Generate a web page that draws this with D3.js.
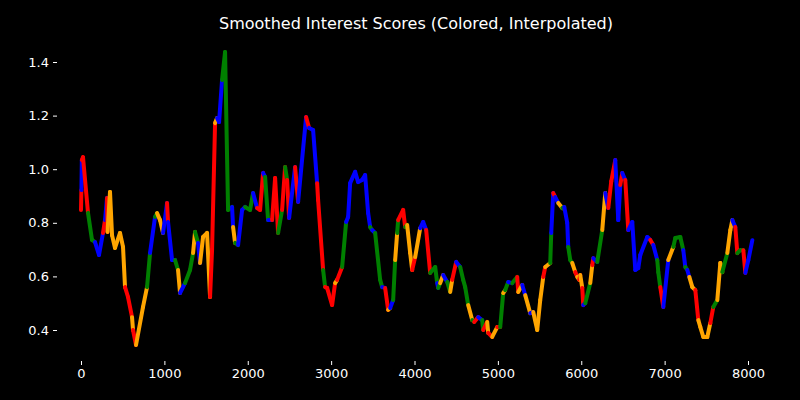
<!DOCTYPE html><html><head><meta charset="utf-8"><script src="https://cdn.jsdelivr.net/npm/d3@7"></script>
<style>body{margin:0;background:#000}</style></head><body><svg id="c" width="800" height="400"></svg><script>
const xs=[0,5,10,24,84,132,168,216,264,288,312,318,348,372,408,468,504,528,564,612,624,660,744,792,828,888,912,948,984,1032,1044,1092,1128,1164,1188,1248,1308,1344,1368,1404,1428,1464,1512,1548,1572,1608,1632,1656,1692,1728,1764,1812,1824,1848,1884,1932,1968,2028,2064,2112,2148,2184,2208,2244,2292,2328,2364,2412,2448,2472,2496,2568,2604,2640,2700,2736,2784,2832,2844,2904,2928,2952,3012,3048,3072,3132,3180,3204,3228,3288,3324,3372,3408,3444,3468,3492,3528,3588,3612,3648,3684,3708,3744,3768,3792,3804,3864,3888,3912,3948,3972,4008,4068,4104,4140,4188,4248,4272,4284,4308,4344,4392,4428,4452,4500,4548,4584,4608,4644,4692,4716,4764,4812,4824,4872,4884,4932,4992,5028,5064,5088,5124,5172,5232,5244,5292,5328,5388,5424,5472,5508,5544,5568,5628,5640,5664,5688,5724,5772,5796,5832,5844,5868,5892,5928,5952,5976,5988,6012,6024,6048,6108,6132,6144,6192,6252,6288,6324,6360,6408,6444,6468,6492,6528,6564,6612,6648,6684,6708,6792,6828,6864,6912,6924,6948,6984,7044,7104,7128,7188,7224,7248,7272,7296,7332,7368,7404,7428,7464,7512,7548,7584,7632,7668,7692,7752,7788,7812,7848,7872,7908,7944,7968,8004,8052];
const ys=[0.848,0.922,1.034,1.045,0.837,0.736,0.728,0.68,0.762,0.81,0.893,0.766,0.915,0.754,0.706,0.762,0.71,0.56,0.523,0.448,0.4,0.344,0.486,0.56,0.687,0.822,0.836,0.81,0.762,0.874,0.803,0.661,0.661,0.624,0.538,0.575,0.624,0.687,0.766,0.725,0.65,0.747,0.762,0.523,0.7,1.172,1.191,1.176,1.333,1.437,0.848,0.859,0.784,0.725,0.717,0.848,0.859,0.848,0.911,0.855,0.848,0.986,0.971,0.81,0.81,0.967,0.762,0.848,1.008,0.96,0.818,1.008,0.878,0.997,1.195,1.154,1.146,0.948,0.885,0.624,0.56,0.557,0.493,0.575,0.587,0.635,0.803,0.822,0.948,0.99,0.952,0.96,0.978,0.836,0.784,0.773,0.762,0.587,0.56,0.557,0.475,0.482,0.512,0.661,0.762,0.81,0.848,0.784,0.792,0.687,0.624,0.672,0.78,0.803,0.773,0.613,0.635,0.575,0.557,0.575,0.605,0.579,0.542,0.587,0.654,0.635,0.587,0.56,0.493,0.437,0.43,0.448,0.437,0.4,0.43,0.389,0.374,0.411,0.411,0.538,0.549,0.579,0.575,0.598,0.542,0.568,0.53,0.463,0.467,0.4,0.512,0.598,0.635,0.65,0.762,0.911,0.896,0.874,0.855,0.859,0.8,0.71,0.661,0.65,0.616,0.598,0.587,0.605,0.557,0.493,0.5,0.575,0.642,0.668,0.654,0.773,0.911,0.855,0.955,1.034,0.81,0.941,0.986,0.96,0.773,0.803,0.624,0.631,0.68,0.747,0.736,0.717,0.661,0.616,0.56,0.486,0.661,0.71,0.743,0.747,0.698,0.635,0.624,0.598,0.56,0.549,0.437,0.411,0.374,0.374,0.426,0.486,0.512,0.65,0.616,0.687,0.773,0.81,0.784,0.687,0.698,0.698,0.613,0.661,0.735];
const cats="rrbrrggbbrbroooooorroroogbgoobrbbgobggogbooorrobbgggbogbbggbrrbgbrrgrgrbrbbrbbrrgrrrorgbbbbbbbbgbggbrobgogrrgoorobbrggbgobgorbgggogrbgrororgogbgrobobooorogbrbogbbggorororbgorbgobrrbbrbrbbbbbbrbggrbogggbgbooroooorgoogoobrggrbbgbb";
const palette={r:"#ff0000",b:"#0000ff",g:"#008000",o:"#ffa500"};
const xTicks=[0,1000,2000,3000,4000,5000,6000,7000,8000];
const yTicks=[0.4,0.6,0.8,1.0,1.2,1.4];
const svg=d3.select("#c");
const x=d3.scaleLinear().domain([0,8000]).range([81,748]);
const y=d3.scaleLinear().domain([0.4,1.4]).range([330,62]);
svg.append("text").attr("x",416).attr("y",29).attr("text-anchor","middle").attr("fill","#fff").attr("font-family","DejaVu Sans").attr("font-size",16).text("Smoothed Interest Scores (Colored, Interpolated)");
const gx=svg.append("g").attr("transform","translate(0,361)").call(d3.axisBottom(x).tickValues(xTicks).tickFormat(d3.format("d")).tickSize(4).tickPadding(4));
const gy=svg.append("g").attr("transform","translate(57,0)").call(d3.axisLeft(y).tickValues(yTicks).tickFormat(d3.format(".1f")).tickSize(4).tickPadding(4));
[gx,gy].forEach(g=>{g.select(".domain").remove();g.selectAll("line").attr("stroke","#fff");g.selectAll("text").attr("fill","#fff").attr("font-family","DejaVu Sans").attr("font-size",13);});
const pts=xs.map((v,i)=>[v,ys[i]]);
const line=d3.line().x(d=>x(d[0])).y(d=>y(d[1]));
for(let i=1;i<pts.length;i++){
 svg.append("path").attr("d",line([pts[i-1],pts[i]])).attr("stroke",palette[cats[i]]).attr("stroke-width",4).attr("fill","none").attr("stroke-linecap","round").attr("stroke-linejoin","round");
}
</script></body></html>
